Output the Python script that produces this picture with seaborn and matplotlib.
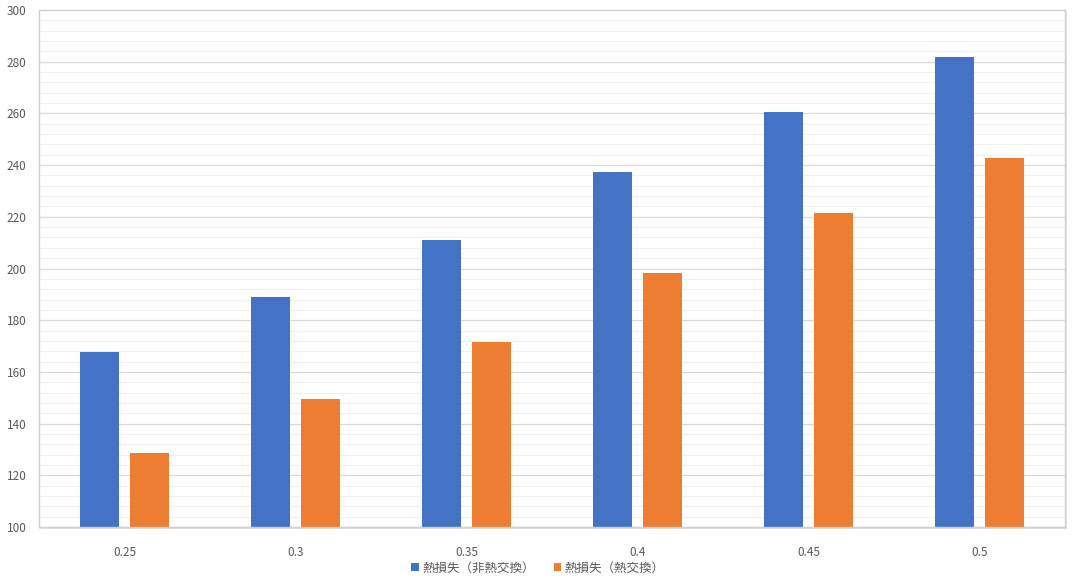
import pandas as pd
import seaborn as sns
import matplotlib.pyplot as plt
from matplotlib.patches import Rectangle
from matplotlib.ticker import MultipleLocator

# data
categories = ["0.25", "0.3", "0.35", "0.4", "0.45", "0.5"]
loss_no_exchange = [167.7, 189.0, 211.0, 237.3, 260.5, 281.8]
loss_exchange = [128.6, 149.5, 171.6, 198.3, 221.5, 242.7]
series_names = ["熱損失（非熱交換）", "熱損失（熱交換）"]

df = pd.DataFrame({
    "x": categories * 2,
    "value": loss_no_exchange + loss_exchange,
    "series": [series_names[0]] * 6 + [series_names[1]] * 6,
})

sns.set_style("white")
plt.rcParams["font.family"] = ["Noto Sans CJK JP", "DejaVu Sans"]

fig = plt.figure(figsize=(10.76, 5.81), dpi=100)

# soft shadow behind the plot area
fig.patches.append(Rectangle((0.0362 + 0.002, 0.0929 - 0.004), 0.9536, 0.8899,
                             transform=fig.transFigure, facecolor="#e3e3e3",
                             edgecolor="none", zorder=-5))

ax = fig.add_axes([0.0362, 0.0929, 0.9536, 0.8899])
ax.set_zorder(1)

sns.barplot(data=df, x="x", y="value", hue="series", order=categories,
            palette=["#4472C4", "#ED7D31"], width=0.58, gap=0.215,
            saturation=1, linewidth=0, ax=ax, legend=True)

ax.set_ylim(100, 300)
ax.set_xlim(-0.5, 5.5)
ax.yaxis.set_major_locator(MultipleLocator(20))
ax.yaxis.set_minor_locator(MultipleLocator(4))
ax.grid(which="major", axis="y", color="#d9d9d9", linewidth=0.9)
ax.grid(which="minor", axis="y", color="#f0f0f0", linewidth=0.9)
ax.set_axisbelow(True)
ax.set_xlabel("")
ax.set_ylabel("")
ax.tick_params(axis="both", which="both", length=0, labelsize=8.5, labelcolor="#595959")
ax.tick_params(axis="y", pad=9)
ax.tick_params(axis="x", pad=14)
for s in ax.spines.values():
    s.set_color("#d0d0d0")
    s.set_linewidth(1.0)
ax.set_facecolor("white")

handles, labels = ax.get_legend_handles_labels()
ax.get_legend().remove()
fig.legend(handles, labels, loc="lower center", bbox_to_anchor=(0.5, -0.008),
           ncol=2, frameon=False, fontsize=9, labelcolor="#595959",
           handlelength=0.6, handleheight=0.6, handletextpad=0.3, columnspacing=1.5)

fig.savefig("out.png", dpi=100)
